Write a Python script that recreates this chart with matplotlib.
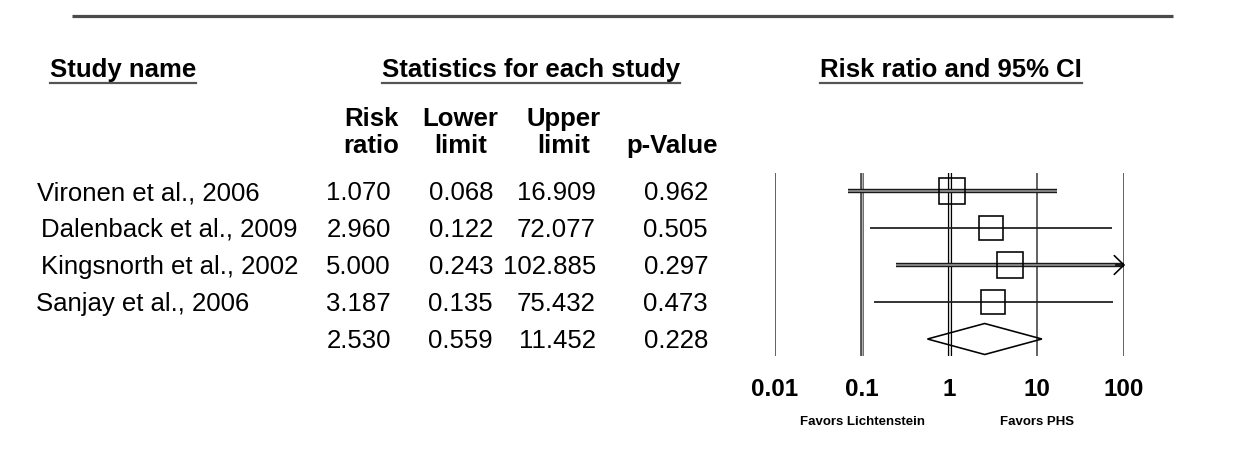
import matplotlib
matplotlib.use('Agg')
import matplotlib.pyplot as plt
from matplotlib.lines import Line2D
from matplotlib.patches import Polygon
from matplotlib.transforms import blended_transform_factory

# ---------------- data ----------------
studies = ["Vironen et al., 2006", "Dalenback et al., 2009",
           "Kingsnorth et al., 2002", "Sanjay et al., 2006"]
risk_ratio = [1.070, 2.960, 5.000, 3.187]
lower_limit = [0.068, 0.122, 0.243, 0.135]
upper_limit = [16.909, 72.077, 102.885, 75.432]
p_value = [0.962, 0.505, 0.297, 0.473]
summary_rr = 2.530
summary_lower = 0.559
summary_upper = 11.452
summary_p = 0.228
ticks = [0.01, 0.1, 1, 10, 100]
tick_labels = ["0.01", "0.1", "1", "10", "100"]

# ---------------- layout ----------------
W, H = 1259, 472
plt.rcParams['font.family'] = ['Liberation Sans', 'DejaVu Sans']
fig = plt.figure(figsize=(W / 100, H / 100), dpi=100)


def fx(px):
    return px / W


def fy(py):
    return 1 - py / H


def pt(px):
    return px * 0.72


FS = 18.5
row_y0, row_dy = 191, 37
name_x = [37, 41, 41, 36]
col_right = [391, 493, 596, 708]

# top rule
fig.add_artist(Line2D([fx(72), fx(1173)], [fy(16), fy(16)], color='#4a4a4a',
                      lw=pt(3.2), solid_capstyle='butt'))

# headers (baseline positions)
hdr_base = 77
h1 = fig.text(fx(50), fy(hdr_base), "Study name", fontsize=FS, fontweight='bold',
              ha='left', va='baseline')
h2 = fig.text(fx(531), fy(hdr_base), "Statistics for each study", fontsize=FS,
              fontweight='bold', ha='center', va='baseline')
h3 = fig.text(fx(951), fy(hdr_base), "Risk ratio and 95% CI", fontsize=FS,
              fontweight='bold', ha='center', va='baseline')

sub1_b, sub2_b = 126, 153
kw = dict(fontsize=FS, fontweight='bold', va='baseline')
fig.text(fx(399), fy(sub1_b), "Risk", ha='right', **kw)
fig.text(fx(399), fy(sub2_b), "ratio", ha='right', **kw)
fig.text(fx(460), fy(sub1_b), "Lower", ha='center', **kw)
fig.text(fx(461), fy(sub2_b), "limit", ha='center', **kw)
fig.text(fx(564), fy(sub1_b), "Upper", ha='center', **kw)
fig.text(fx(564), fy(sub2_b), "limit", ha='center', **kw)
fig.text(fx(672), fy(sub2_b), "p-Value", ha='center', **kw)


# table rows
def fmt(v):
    return f"{v:.3f}"


for i, name in enumerate(studies):
    yb = row_y0 + row_dy * i + 9
    fig.text(fx(name_x[i]), fy(yb), name, fontsize=FS, ha='left', va='baseline')
    vals = [risk_ratio[i], lower_limit[i], upper_limit[i], p_value[i]]
    for xr, v in zip(col_right, vals):
        fig.text(fx(xr), fy(yb), fmt(v), fontsize=FS, ha='right', va='baseline')
yb = row_y0 + row_dy * len(studies) + 9
for xr, v in zip(col_right, [summary_rr, summary_lower, summary_upper, summary_p]):
    fig.text(fx(xr), fy(yb), fmt(v), fontsize=FS, ha='right', va='baseline')

# ---------------- forest plot ----------------
top_px, bot_px = 173, 356
ax = fig.add_axes([fx(775), fy(bot_px), fx(1124) - fx(775), (bot_px - top_px) / H])
ax.set_xscale('log')
ax.set_xlim(ticks[0], ticks[-1])
ax.set_ylim((bot_px - row_y0) / row_dy, (top_px - row_y0) / row_dy)
for s in ax.spines.values():
    s.set_visible(False)
ax.set_yticks([])
ax.minorticks_off()
ax.set_xticks(ticks)
ax.set_xticklabels(tick_labels, fontsize=17.5, fontweight='bold')
ax.tick_params(axis='x', length=0, pad=pt(22))
ax.patch.set_alpha(0)

for t in ticks:
    if t == 1:
        ax.axvline(t, color='black', lw=pt(4.2), zorder=2)
        ax.axvline(t, color='white', lw=pt(1.6), zorder=2)
    elif t == 0.1:
        ax.axvline(t, color='#3a3a3a', lw=pt(3.6), zorder=2)
        ax.axvline(t, color='#b0b0b0', lw=pt(1.4), zorder=2)
    else:
        ax.axvline(t, color='#555555', lw=pt(1.8), zorder=2)

double_rows = [0, 2]
xmax = ticks[-1]
for i in range(len(studies)):
    lo, hi = lower_limit[i], upper_limit[i]
    hi_draw = min(hi, xmax)
    if i in double_rows:
        ax.plot([lo, hi_draw], [i, i], color='#1a1a1a', lw=pt(4.4),
                solid_capstyle='butt', zorder=3, clip_on=False)
        ax.plot([lo, hi_draw], [i, i], color='#9a9a9a', lw=pt(1.6),
                solid_capstyle='butt', zorder=3, clip_on=False)
    else:
        ax.plot([lo, hi_draw], [i, i], color='#222222', lw=pt(1.8),
                solid_capstyle='butt', zorder=3, clip_on=False)
    if hi > xmax:
        ax.annotate('', xy=(hi, i), xytext=(hi_draw * 0.8, i),
                    arrowprops=dict(arrowstyle='->,head_length=0.7,head_width=0.68',
                                    color='black', lw=pt(1.6), mutation_scale=10,
                                    shrinkA=0, shrinkB=0),
                    annotation_clip=False, zorder=4)

marker_px = [27, 24, 26, 23.5]
for i in range(len(studies)):
    ax.plot(risk_ratio[i], i, marker='s', ms=pt(marker_px[i]), mfc='none',
            mec='black', mew=pt(1.6), zorder=5, clip_on=False)

ys = len(studies)
hh = 15.5 / row_dy
dia = Polygon([(summary_lower, ys), (summary_rr, ys - hh), (summary_upper, ys),
               (summary_rr, ys + hh)], closed=True, fill=False, ec='black',
              lw=pt(1.6), zorder=5)
ax.add_patch(dia)

tr = blended_transform_factory(ax.transData, ax.transAxes)
fav_y = -(422 - bot_px) / (bot_px - top_px)
ax.text(0.1, fav_y, "Favors Lichtenstein", transform=tr, fontsize=9.5,
        fontweight='bold', ha='center', va='center')
ax.text(10, fav_y, "Favors PHS", transform=tr, fontsize=9.5,
        fontweight='bold', ha='center', va='center')

# underline headers
fig.canvas.draw()
r = fig.canvas.get_renderer()
for h in (h1, h2, h3):
    bb = h.get_window_extent(r)
    yline = bb.y0 - 1
    fig.add_artist(Line2D([bb.x0 / W, bb.x1 / W], [yline / H, yline / H],
                          color='#555555', lw=pt(2.2)))

fig.savefig('out.png', dpi=100)
